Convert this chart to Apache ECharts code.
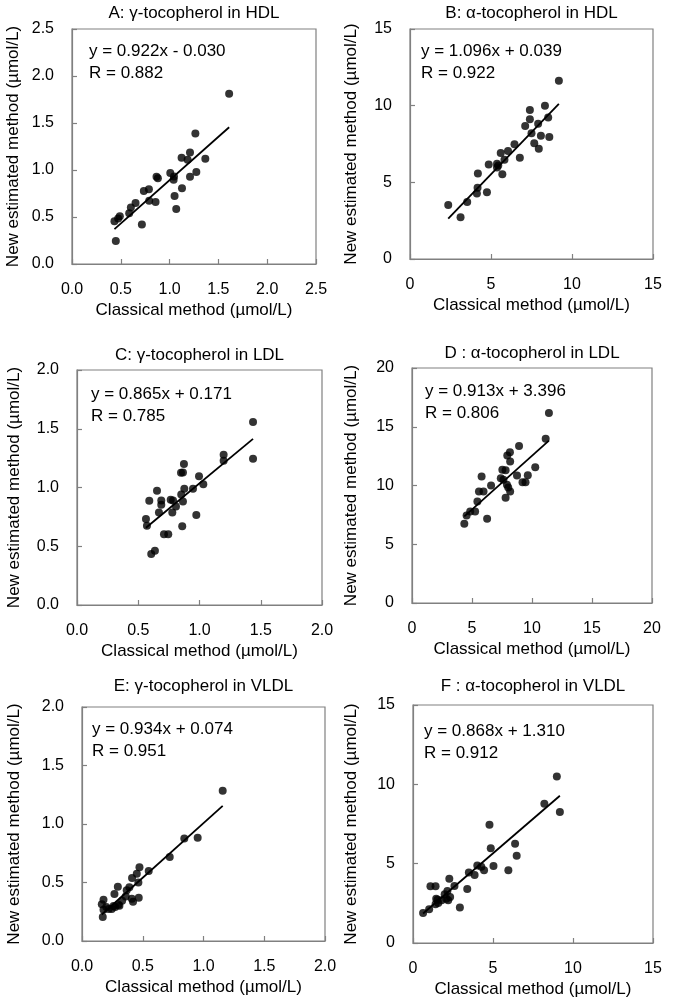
<!DOCTYPE html>
<html>
<head>
<meta charset="utf-8">
<script src="https://cdn.jsdelivr.net/npm/echarts@6/dist/echarts.min.js"></script>
<style>
html,body{margin:0;padding:0;background:#fff;}
#chart{width:675px;height:1003px;}
</style>
</head>
<body>
<div id="chart"></div>
<script>
// ---- Data ----
const panelTitles = ["A: γ-tocopherol in HDL", "B: α-tocopherol in HDL", "C: γ-tocopherol in LDL", "D : α-tocopherol in LDL", "E: γ-tocopherol in VLDL", "F : α-tocopherol in VLDL"];
const equationTexts = ["y = 0.922x - 0.030", "y = 1.096x + 0.039", "y = 0.865x + 0.171", "y = 0.913x + 3.396", "y = 0.934x + 0.074", "y = 0.868x + 1.310"];
const rTexts = ["R = 0.882", "R = 0.922", "R = 0.785", "R = 0.806", "R = 0.951", "R = 0.912"];
const slopes = [0.922, 1.096, 0.865, 0.913, 0.934, 0.868];
const intercepts = [-0.030, 0.039, 0.171, 3.396, 0.074, 1.310];
const axisMaxes = [2.5, 15, 2.0, 20, 2.0, 15];
const axisIntervals = [0.5, 5, 0.5, 5, 0.5, 5];
const labelDecimals = [1, 0, 1, 0, 1, 0];
const xAxisName = "Classical method (µmol/L)";
const yAxisName = "New estimated method (µmol/L)";

const panelA_x = [1.61, 1.264, 1.209, 1.123, 1.185, 1.366, 1.274, 1.209, 1.007, 1.045, 1.041, 0.866, 0.88, 1.127, 1.051, 1.068, 0.788, 0.736, 0.791, 0.856, 0.651, 0.603, 0.586, 0.49, 0.473, 0.435, 0.716, 0.449];
const panelA_y = [1.81, 1.387, 1.186, 1.13, 1.108, 1.119, 0.978, 0.928, 0.967, 0.932, 0.897, 0.928, 0.911, 0.805, 0.724, 0.586, 0.794, 0.777, 0.674, 0.66, 0.649, 0.6, 0.54, 0.508, 0.484, 0.455, 0.42, 0.244];

const panelB_x = [9.19, 8.33, 7.40, 8.53, 7.40, 7.91, 7.11, 7.5, 8.08, 8.60, 7.67, 7.95, 6.45, 6.05, 5.60, 5.83, 6.78, 5.37, 5.45, 4.86, 5.37, 5.70, 4.19, 4.17, 4.13, 4.75, 3.53, 2.36, 3.12];
const panelB_y = [11.63, 10.0, 9.72, 9.23, 9.12, 8.82, 8.67, 8.20, 8.03, 7.96, 7.55, 7.19, 7.49, 7.04, 6.91, 6.48, 6.61, 6.22, 6.09, 6.16, 5.97, 5.52, 5.58, 4.64, 4.27, 4.36, 3.71, 3.52, 2.73];

const panelC_x = [1.437, 1.437, 1.197, 1.197, 0.873, 0.849, 0.865, 0.996, 1.031, 0.947, 0.876, 0.851, 0.865, 0.653, 0.590, 0.688, 0.688, 0.765, 0.784, 0.808, 0.778, 0.669, 0.974, 0.563, 0.571, 0.859, 0.710, 0.745, 0.636, 0.606];
const panelC_y = [1.558, 1.244, 1.278, 1.227, 1.201, 1.125, 1.128, 1.096, 1.028, 0.989, 0.989, 0.941, 0.881, 0.972, 0.887, 0.890, 0.853, 0.895, 0.890, 0.839, 0.788, 0.788, 0.765, 0.731, 0.674, 0.671, 0.603, 0.603, 0.462, 0.433];

const panelD_x = [11.41, 11.14, 8.92, 8.16, 7.94, 8.18, 10.27, 7.53, 7.80, 7.40, 7.62, 8.75, 9.65, 9.21, 9.46, 7.91, 8.02, 8.18, 7.80, 5.80, 6.59, 5.58, 5.96, 5.45, 5.26, 4.85, 4.55, 4.36, 6.26];
const panelD_y = [16.18, 13.97, 13.37, 12.83, 12.55, 12.04, 11.56, 11.33, 11.30, 10.62, 10.48, 10.85, 10.88, 10.28, 10.28, 10.06, 9.83, 9.49, 8.95, 10.76, 10.0, 9.49, 9.49, 8.64, 7.79, 7.79, 7.45, 6.74, 7.17];

const panelE_x = [1.158, 0.952, 0.842, 0.722, 0.549, 0.473, 0.451, 0.412, 0.464, 0.390, 0.368, 0.295, 0.267, 0.467, 0.41, 0.42, 0.36, 0.33, 0.308, 0.273, 0.245, 0.177, 0.163, 0.177, 0.171, 0.219, 0.26, 0.30, 0.20];
const panelE_y = [1.285, 0.883, 0.877, 0.718, 0.598, 0.630, 0.575, 0.538, 0.501, 0.459, 0.433, 0.464, 0.402, 0.370, 0.362, 0.335, 0.38, 0.345, 0.302, 0.291, 0.274, 0.353, 0.315, 0.268, 0.205, 0.274, 0.30, 0.31, 0.29];

const panelF_x = [8.99, 8.21, 9.18, 4.78, 6.38, 6.48, 4.86, 5.03, 5.96, 4.02, 4.27, 4.44, 3.85, 3.49, 2.27, 2.59, 1.09, 1.41, 3.39, 2.15, 1.98, 1.45, 1.79, 1.58, 2.32, 2.08, 2.93, 1.01, 0.63, 1.53, 2.2, 1.41];
const panelF_y = [10.50, 8.78, 8.26, 7.46, 6.26, 5.50, 5.97, 4.85, 4.58, 4.89, 4.81, 4.58, 4.29, 4.45, 4.05, 3.59, 3.57, 3.57, 3.40, 3.28, 3.07, 2.79, 2.69, 2.52, 2.90, 2.79, 2.23, 2.12, 1.89, 2.73, 2.69, 2.44];

const panelXs = [panelA_x, panelB_x, panelC_x, panelD_x, panelE_x, panelF_x];
const panelYs = [panelA_y, panelB_y, panelC_y, panelD_y, panelE_y, panelF_y];

// ---- Layout (pixels) ----
const grids = [
  {left: 72, top: 29, width: 244, height: 235},
  {left: 410, top: 29, width: 243, height: 230},
  {left: 77, top: 370, width: 245, height: 235},
  {left: 412, top: 368, width: 240, height: 235},
  {left: 82, top: 707, width: 243, height: 234},
  {left: 413, top: 705, width: 240, height: 238}
];
const yNameGaps = [50, 50, 54, 52, 59, 53];
const eqPos = [[89, 51], [421, 51], [91, 394], [425, 391], [92, 729], [424, 731]];
const titleY = [13, 13, 355, 353, 686, 686];

const FONT = "'Liberation Sans', Arial, sans-serif";
const frameColor = '#808080';

const option = {
  animation: false,
  backgroundColor: '#fff',
  grid: [], xAxis: [], yAxis: [], series: [], graphic: []
};

grids.forEach((g, i) => {
  option.grid.push({left: g.left, top: g.top, width: g.width, height: g.height,
    show: true, borderColor: frameColor, borderWidth: 1.2, backgroundColor: 'transparent'});
  const dec = labelDecimals[i];
  const axisCommon = {
    min: 0, max: axisMaxes[i], interval: axisIntervals[i], gridIndex: i,
    splitLine: {show: false},
    axisLine: {show: true, onZero: false, lineStyle: {color: frameColor, width: 1.2}},
    axisTick: {show: true, inside: true, length: 5, lineStyle: {color: frameColor, width: 1.2}},
    axisLabel: {color: '#000', fontSize: 16, fontFamily: FONT, margin: 18,
      formatter: v => v.toFixed(dec)},
    nameLocation: 'middle',
    nameTextStyle: {color: '#000', fontSize: 17, fontFamily: FONT}
  };
  option.xAxis.push(Object.assign({}, axisCommon, {type: 'value', name: xAxisName, nameGap: 38}));
  option.yAxis.push(Object.assign({}, axisCommon, {type: 'value', name: yAxisName, nameGap: yNameGaps[i]}));

  const xs = panelXs[i], ys = panelYs[i];
  option.series.push({
    type: 'scatter', xAxisIndex: i, yAxisIndex: i,
    data: xs.map((x, k) => [x, ys[k]]),
    symbol: 'circle', symbolSize: 8,
    itemStyle: {color: '#000'}
  });
  const xmin = Math.min(...xs), xmax = Math.max(...xs);
  option.series.push({
    type: 'line', xAxisIndex: i, yAxisIndex: i,
    data: [[xmin, slopes[i] * xmin + intercepts[i]], [xmax, slopes[i] * xmax + intercepts[i]]],
    symbol: 'none', lineStyle: {color: '#000', width: 1.8}
  });

  option.graphic.push({type: 'text', x: g.left + g.width / 2, y: titleY[i],
    style: {text: panelTitles[i], font: '17px ' + FONT, fill: '#000', align: 'center', verticalAlign: 'middle'}});
  option.graphic.push({type: 'text', x: eqPos[i][0], y: eqPos[i][1],
    style: {text: equationTexts[i], font: '17px ' + FONT, fill: '#000', align: 'left', verticalAlign: 'middle'}});
  option.graphic.push({type: 'text', x: eqPos[i][0], y: eqPos[i][1] + 22,
    style: {text: rTexts[i], font: '17px ' + FONT, fill: '#000', align: 'left', verticalAlign: 'middle'}});
});

const chart = echarts.init(document.getElementById('chart'), null, {renderer: 'canvas'});
chart.setOption(option);
</script>
</body>
</html>
